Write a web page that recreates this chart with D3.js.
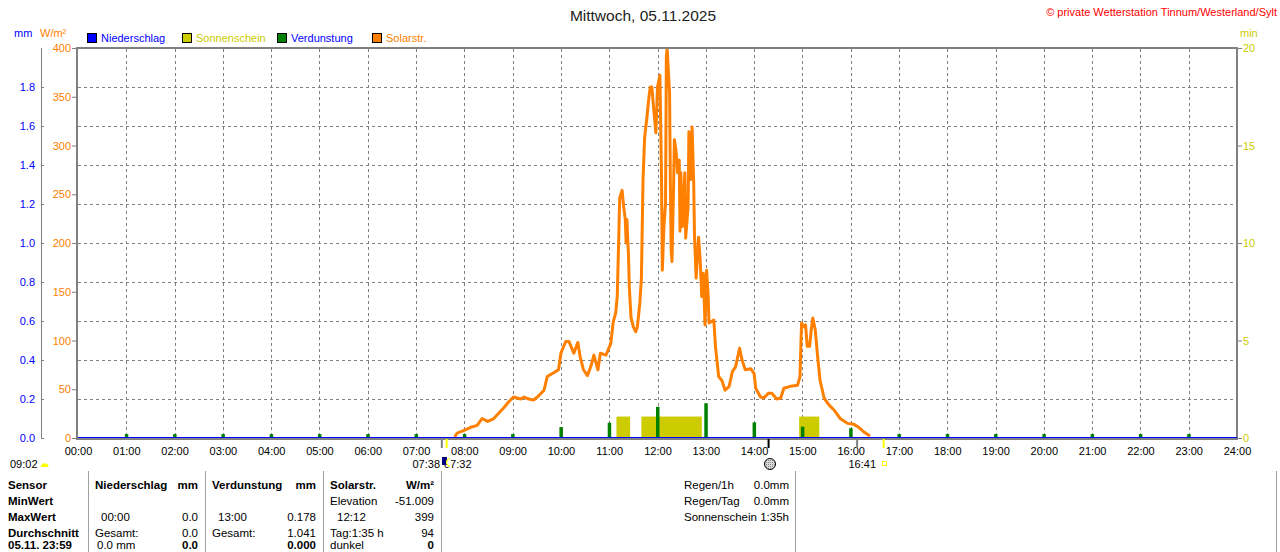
<!DOCTYPE html>
<html><head><meta charset="utf-8">
<script src="https://cdn.jsdelivr.net/npm/d3@7"></script>
<style>
body{margin:0;background:#fff}
svg{display:block}
text{font-family:"Liberation Sans",Arial,sans-serif;font-size:11px}
</style>
</head><body>
<svg id="c" width="1280" height="552"></svg>
<script>
// ---------------- DATA ----------------
const hourLabels = ["00:00","01:00","02:00","03:00","04:00","05:00","06:00","07:00","08:00","09:00","10:00","11:00","12:00","13:00","14:00","15:00","16:00","17:00","18:00","19:00","20:00","21:00","22:00","23:00","24:00"];
const wTicks = [0,50,100,150,200,250,300,350,400];
const mmTicks = [0,0.2,0.4,0.6,0.8,1.0,1.2,1.4,1.6,1.8];
const minTicks = [0,5,10,15,20];

const solarTimes = ["07:48","07:51","07:59","08:08","08:16","08:22","08:29","08:36","08:43","08:49","08:55","09:01","09:10","09:14","09:20","09:26","09:32","09:39","09:43","09:51","09:57","10:00","10:06","10:10","10:16","10:21","10:24","10:28","10:33","10:37","10:41","10:46","10:49","10:56","11:02","11:05","11:08","11:10","11:12","11:13","11:16","11:18","11:20","11:21","11:22","11:24","11:25","11:27","11:30","11:33","11:35","11:38","11:40","11:42","11:44","11:47","11:49","11:51","11:53","11:55","11:58","12:00","12:03","12:05","12:06","12:08","12:10","12:11","12:12","12:15","12:16","12:17","12:18","12:20","12:21","12:23","12:25","12:27","12:28","12:29","12:31","12:34","12:35","12:38","12:39","12:41","12:43","12:45","12:46","12:48","12:51","12:53","12:55","12:57","12:59","13:01","13:03","13:04","13:10","13:12","13:16","13:20","13:24","13:29","13:33","13:37","13:42","13:45","13:49","13:56","14:00","14:02","14:08","14:12","14:18","14:22","14:28","14:33","14:37","14:45","14:54","14:57","14:59","15:02","15:04","15:06","15:09","15:11","15:13","15:16","15:19","15:22","15:27","15:33","15:39","15:47","15:56","16:04","16:10","16:16","16:24"];
const solarValues = [1,5,7.5,11,13,20,17,19.5,25.6,31,37,42,40,42,40,39,43,49,63,67,70,87,99,99,87,98,83,70,64,73,85,70,87,85,97,119,128,145,210,246,254,237,224,200,224,186,155,124,114,109,114,138,164,265,308,330,347,360,360,340,313,360,372,265,172,217,241,391,399,354,261,193,181,259,306,295,272,285,212,272,217,272,205,237,314,265,319,261,206,164,206,183,145,169,116,172,145,118,121,94,63,59,49,53,68,73,92,80,70,71,66,51,42,41,46,46,40,41,51,53,54,63,118,114,116,94,94,111,123,111,83,59,41,34,29,20,15,14,11,6.5,2];

const sunStart = ["11:09","11:40","14:56"];
const sunEnd   = ["11:26","12:55","15:21"];
const sunValues = [1.1,1.1,1.1];

const evapTimes = ["01:00","02:00","03:00","04:00","05:00","06:00","07:00","08:00","09:00","10:00","11:00","12:00","13:00","14:00","15:00","16:00","17:00","18:00","19:00","20:00","21:00","22:00","23:00"];
const evapValues = [0.02,0.02,0.02,0.02,0.02,0.02,0.02,0.02,0.02,0.056,0.078,0.16,0.178,0.08,0.058,0.05,0.02,0.02,0.02,0.02,0.02,0.02,0.02];

const rainTimes = ["00:00","24:00"];
const rainValues = [0,0];

// ---------------- SETUP ----------------
const toMin = s => { const [h,m] = s.split(":").map(Number); return h*60+m; };
const svg = d3.select("#c");
const X0 = 78, X1 = 1237, YT = 48, YB = 438;
const x = d3.scaleLinear().domain([0,1440]).range([X0,X1]);
const yW = d3.scaleLinear().domain([0,400]).range([YB,YT]);
const yMM = d3.scaleLinear().domain([0,2]).range([YB,YT]);
const yMin = d3.scaleLinear().domain([0,20]).range([YB,YT]);
const GRAY = "#808080", BLUE = "#0000FF", ORANGE = "#FF8000", YEL = "#CCCC00", GREEN = "#008000";

// Title & copyright
svg.append("text").attr("x",643).attr("y",21).attr("text-anchor","middle")
  .style("font-size","15.5px").attr("fill","#222").text("Mittwoch, 05.11.2025");
svg.append("text").attr("x",1277).attr("y",16).attr("text-anchor","end")
  .style("font-size","11px").attr("fill","#FF0000").text("© private Wetterstation Tinnum/Westerland/Sylt");

// Unit labels
svg.append("text").attr("x",14).attr("y",37).attr("fill",BLUE).text("mm");
svg.append("text").attr("x",40).attr("y",37).attr("fill",ORANGE).text("W/m²");
svg.append("text").attr("x",1240).attr("y",37).attr("fill",YEL).text("min");

// Legend
const legend = [
  {c:BLUE,t:"Niederschlag",tc:BLUE,x:87},
  {c:YEL,t:"Sonnenschein",tc:YEL,x:182},
  {c:GREEN,t:"Verdunstung",tc:BLUE,x:277},
  {c:ORANGE,t:"Solarstr.",tc:ORANGE,x:372}];
legend.forEach(l=>{
  svg.append("rect").attr("x",l.x+0.5).attr("y",33.5).attr("width",9).attr("height",9)
    .attr("fill",l.c).attr("stroke","#000").attr("stroke-width",1);
  svg.append("text").attr("x",l.x+14).attr("y",42).attr("fill",l.tc).text(l.t);
});

// Grid
const grid = svg.append("g").attr("stroke",GRAY).attr("stroke-width",1).attr("stroke-dasharray","3,3");
hourLabels.slice(1,24).forEach(h=>{
  const xx = Math.round(x(toMin(h)))+0.5;
  grid.append("line").attr("x1",xx).attr("x2",xx).attr("y1",YT+1).attr("y2",YB);
});
mmTicks.slice(1).forEach(v=>{
  const yy = Math.round(yMM(v))+0.5;
  grid.append("line").attr("x1",X0).attr("x2",X1).attr("y1",yy).attr("y2",yy);
});

// Sunshine bars
svg.append("g").selectAll("rect").data(sunValues).join("rect")
  .attr("x",(d,i)=>x(toMin(sunStart[i])))
  .attr("width",(d,i)=>x(toMin(sunEnd[i]))-x(toMin(sunStart[i])))
  .attr("y",d=>yMin(d)).attr("height",d=>YB-yMin(d)).attr("fill",YEL);

// Evaporation bars
svg.append("g").selectAll("rect").data(evapValues).join("rect")
  .attr("x",(d,i)=>x(toMin(evapTimes[i]))-1.5)
  .attr("width",3.5)
  .attr("y",d=>yMM(d)).attr("height",d=>YB-yMM(d)).attr("fill",GREEN);

// Solar line
const solar = solarTimes.map((t,i)=>[toMin(t),solarValues[i]]);
svg.append("path").datum(solar)
  .attr("d",d3.line().x(d=>x(d[0])).y(d=>yW(d[1])))
  .attr("fill","none").attr("stroke",ORANGE).attr("stroke-width",3).attr("stroke-linejoin","round");

// Frame
const fr = svg.append("g").attr("stroke",GRAY).attr("stroke-width",2);
fr.append("line").attr("x1",77).attr("x2",1238).attr("y1",YT).attr("y2",YT);
fr.append("line").attr("x1",77).attr("x2",1238).attr("y1",YB+1).attr("y2",YB+1);
fr.append("line").attr("x1",77).attr("x2",77).attr("y1",YT-1).attr("y2",YB+2);
fr.append("line").attr("x1",1237).attr("x2",1237).attr("y1",YT-1).attr("y2",YB+2);

// Rain line (0)
svg.append("path").datum(rainTimes.map((t,i)=>[toMin(t),rainValues[i]]))
  .attr("d",d3.line().x(d=>x(d[0])).y(d=>yMM(d[1])-0.5))
  .attr("fill","none").attr("stroke",BLUE).attr("stroke-width",1);

// Axes
function styleAxis(g,color){
  g.selectAll(".domain").remove();
  g.selectAll(".tick line").attr("stroke",GRAY);
  g.selectAll(".tick text").attr("fill",color).style("font-size","11px").attr("font-family",null);
}
const aW = svg.append("g").attr("transform","translate(77,0)")
  .call(d3.axisLeft(yW).tickValues(wTicks).tickSize(5).tickPadding(1));
styleAxis(aW,ORANGE);

const aMM = svg.append("g").attr("transform","translate(41,0)")
  .call(d3.axisLeft(yMM).tickValues(mmTicks).tickSize(-3).tickPadding(6).tickFormat(d3.format(".1f")));
styleAxis(aMM,BLUE);
svg.append("line").attr("x1",41.5).attr("x2",41.5).attr("y1",YT).attr("y2",YB).attr("stroke",GRAY).attr("stroke-width",1);

const aMin = svg.append("g").attr("transform","translate(1237,0)")
  .call(d3.axisRight(yMin).tickValues(minTicks).tickSize(5).tickPadding(1));
styleAxis(aMin,YEL);

const aX = svg.append("g").attr("transform",`translate(0,${YB})`)
  .call(d3.axisBottom(x).tickValues(hourLabels.map(toMin)).tickSize(0).tickPadding(9)
    .tickFormat((d,i)=>hourLabels[i]));
styleAxis(aX,"#000");

// Astronomical markers below axis
const markers = [
  {t:"07:32",c:GRAY},{t:"07:38",c:"#FFFF00"},{t:"14:18",c:"#000"},{t:"16:08",c:GRAY},{t:"16:41",c:"#FFFF00"}];
markers.forEach(m=>{
  const xx = x(toMin(m.t));
  svg.append("line").attr("x1",xx).attr("x2",xx).attr("y1",YB+1).attr("y2",YB+10)
    .attr("stroke",m.c).attr("stroke-width",2);
});
svg.append("text").attr("x",10).attr("y",468).text("09:02");
svg.append("path").attr("d","M41,467 A3.8,3.8 0 0 1 48.6,467 Z").attr("fill","#FFFF00");
svg.append("text").attr("x",440).attr("y",468).attr("text-anchor","end").text("07:38");
svg.append("text").attr("x",444).attr("y",468).text("07:32");
svg.append("rect").attr("x",442).attr("y",457).attr("width",5).attr("height",8).attr("fill","#000080");
svg.append("rect").attr("x",447).attr("y",458).attr("width",4).attr("height",9).attr("fill","#fff");
svg.append("path").attr("d","M450,459 A3.5,3.5 0 0 0 450,466").attr("fill","none").attr("stroke","#FFFF00").attr("stroke-width",1.2);
svg.append("text").attr("x",876).attr("y",468).attr("text-anchor","end").text("16:41");
svg.append("rect").attr("x",882.5).attr("y",461.5).attr("width",4).attr("height",4).attr("fill","none").attr("stroke","#FFFF00");
const pat = svg.append("defs").append("pattern").attr("id","hatch").attr("width",2).attr("height",2).attr("patternUnits","userSpaceOnUse");
pat.append("rect").attr("width",2).attr("height",2).attr("fill","#d8d8d8");
pat.append("rect").attr("width",1).attr("height",1).attr("fill","#888");
svg.append("circle").attr("cx",770).attr("cy",464).attr("r",5.5).attr("fill","url(#hatch)").attr("stroke","#000").attr("stroke-width",1);

// Bottom table
[88,205,323,441,795,1276].forEach(xx=>{
  svg.append("line").attr("x1",xx+0.5).attr("x2",xx+0.5).attr("y1",471).attr("y2",552).attr("stroke","#a0a0a0");
});
const rowY = [489,505,521,537,549];
const cells = [
  // [x, row, text, bold, anchor]
  [8,0,"Sensor",1],[8,1,"MinWert",1],[8,2,"MaxWert",1],[8,3,"Durchschnitt",1],[8,4,"05.11. 23:59",1],
  [95,0,"Niederschlag",1],[198,0,"mm",1,"end"],
  [101,2,"00:00",0],[198,2,"0.0",0,"end"],
  [95,3,"Gesamt:",0],[198,3,"0.0",0,"end"],
  [97,4,"0.0 mm",0],[198,4,"0.0",1,"end"],
  [212,0,"Verdunstung",1],[316,0,"mm",1,"end"],
  [218,2,"13:00",0],[316,2,"0.178",0,"end"],
  [212,3,"Gesamt:",0],[316,3,"1.041",0,"end"],
  [316,4,"0.000",1,"end"],
  [330,0,"Solarstr.",1],[434,0,"W/m²",1,"end"],
  [330,1,"Elevation",0],[434,1,"-51.009",0,"end"],
  [337,2,"12:12",0],[434,2,"399",0,"end"],
  [330,3,"Tag:1:35 h",0],[434,3,"94",0,"end"],
  [330,4,"dunkel",0],[434,4,"0",1,"end"],
  [684,0,"Regen/1h",0],[789,0,"0.0mm",0,"end"],
  [684,1,"Regen/Tag",0],[789,1,"0.0mm",0,"end"],
  [684,2,"Sonnenschein",0],[789,2,"1:35h",0,"end"]
];
svg.append("g").selectAll("text").data(cells).join("text")
  .attr("x",d=>d[0]).attr("y",d=>rowY[d[1]])
  .attr("text-anchor",d=>d[4]||"start")
  .style("font-weight",d=>d[3]?"bold":"normal")
  .style("font-size","11.5px")
  .attr("fill","#000").text(d=>d[2]);
</script>
</body></html>
